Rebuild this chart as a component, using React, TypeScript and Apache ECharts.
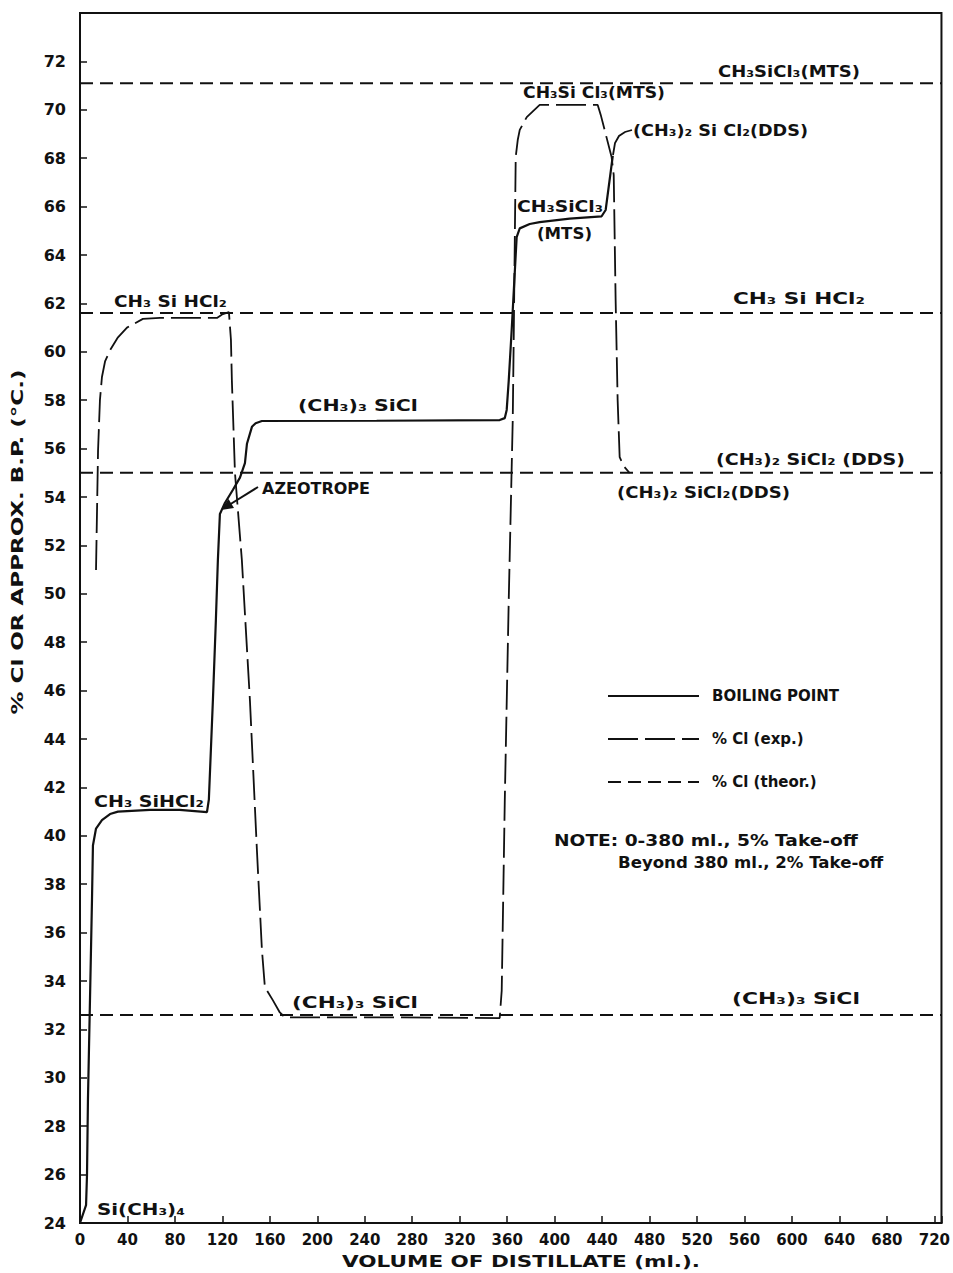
import React, { useEffect, useRef } from 'react';
import * as echarts from 'echarts';

const X_MIN = 0;
const X_MAX = 726;
const Y_MIN = 24;
const Y_MAX = 74;

// Boiling point (solid)
const bpVolume = [0, 5.1, 5.9, 6.7, 8.4, 10.1, 10.9, 13.5, 18.5, 25.3, 32, 59, 84, 107, 108.6, 112, 114.5, 116.2, 117.9, 122.1, 128.9, 134.8, 139, 140.7, 144.9, 148, 153.3, 250, 353.7, 358, 359.6, 361.3, 363.8, 368, 370.6, 379, 387.4, 412.7, 439.6, 443, 449];
const bpTemp = [24, 24.74, 25.98, 29.1, 33.2, 37.35, 39.6, 40.3, 40.65, 40.9, 41.0, 41.07, 41.07, 40.98, 41.5, 45.6, 48.9, 51.4, 53.3, 53.75, 54.3, 54.8, 55.4, 56.2, 56.9, 57.05, 57.14, 57.15, 57.18, 57.26, 57.6, 58.8, 60.9, 64.74, 65.1, 65.28, 65.36, 65.5, 65.6, 65.86, 68.1];

// % Cl experimental (long dash)
const clVolume = [13.5, 15.2, 16.8, 18.5, 21.1, 25.3, 32, 39.6, 53, 67.4, 115.4, 120.4, 125.5, 127.2, 128, 130.6, 136.4, 143.2, 149.1, 153.3, 155.8, 162.6, 168.4, 172.7, 260, 353.7, 355.4, 358, 361.3, 364.7, 365.5, 367.2, 368.9, 370.6, 376.5, 387.4, 436.3, 438.8, 448, 449.8, 451.4, 453.1, 454.8, 458.2, 463.2];
const clPercent = [50.98, 55.9, 58.0, 58.96, 59.6, 60.07, 60.6, 61.0, 61.36, 61.4, 61.4, 61.56, 61.64, 60.5, 58.8, 54.99, 51.4, 45.6, 39.4, 35.3, 33.75, 33.2, 32.7, 32.5, 32.5, 32.47, 33.6, 41.5, 49.7, 57.2, 60.5, 68.05, 68.75, 69.17, 69.7, 70.2, 70.2, 69.8, 68.05, 67.3, 62.14, 58.0, 55.65, 55.28, 54.99];

// % Cl theoretical (short dash)
const theorPercent = [71.1, 61.6, 55.0, 32.6];

const BP_NAME = 'BOILING POINT';
const EXP_NAME = '% Cl (exp.)';
const THEOR_NAME = '% Cl (theor.)';

const FONT = 'DejaVu Sans';

const labels = [
  { text: 'CH₃SiCl₃(MTS)', x: 718, y: 71, w: 142 },
  { text: 'CH₃Si Cl₃(MTS)', x: 523, y: 93, w: 142 },
  { text: '(CH₃)₂ Si Cl₂(DDS)', x: 633, y: 130, w: 175 },
  { text: 'CH₃SiCl₃', x: 517, y: 206, w: 86 },
  { text: '(MTS)', x: 537, y: 234, w: 55 },
  { text: 'CH₃ Si HCl₂', x: 114, y: 301, w: 113 },
  { text: 'CH₃ Si HCl₂', x: 733, y: 298, w: 132 },
  { text: '(CH₃)₃ SiCl', x: 298, y: 405, w: 120 },
  { text: '(CH₃)₂ SiCl₂ (DDS)', x: 716, y: 460, w: 189 },
  { text: '(CH₃)₂ SiCl₂(DDS)', x: 617, y: 492, w: 173 },
  { text: 'AZEOTROPE', x: 262, y: 488, w: 108 },
  { text: '(CH₃)₃ SiCl', x: 292, y: 1002, w: 126 },
  { text: '(CH₃)₃ SiCl', x: 732, y: 999, w: 128 },
  { text: 'CH₃ SiHCl₂', x: 94, y: 802, w: 110 },
  { text: 'Si(CH₃)₄', x: 97, y: 1209, w: 88 },
  { text: 'NOTE: 0-380 ml., 5% Take-off', x: 554, y: 840, w: 304 },
  { text: 'Beyond 380 ml., 2% Take-off', x: 618, y: 863, w: 265 },
];

function measure(text: string, size: number): number {
  const c = document.createElement('canvas').getContext('2d');
  if (!c) return text.length * size * 0.6;
  c.font = `bold ${size}px "${FONT}"`;
  return c.measureText(text).width;
}

function textEl(text: string, x: number, y: number, w: number, size: number, extra: any = {}) {
  const m = measure(text, size);
  const s = Math.max(0.7, Math.min(1.8, w / m));
  return {
    type: 'text',
    x,
    y,
    scaleX: s,
    silent: true,
    ...extra,
    style: {
      text,
      fill: '#111',
      font: `bold ${size}px "${FONT}"`,
      align: extra.align || 'left',
      verticalAlign: 'middle',
      textAlign: extra.align || 'left',
      textVerticalAlign: 'middle',
    },
  };
}

export default function App() {
  const ref = useRef<HTMLDivElement>(null);

  useEffect(() => {
    if (!ref.current) return;
    const chart = echarts.init(ref.current, null, { renderer: 'svg' });

    const bpData = bpVolume.map((v, i) => [v, bpTemp[i]]);
    const clData = clVolume.map((v, i) => [v, clPercent[i]]);

    const theorSeries = theorPercent.map((p) => ({
      name: THEOR_NAME,
      type: 'line',
      data: [[X_MIN, p], [X_MAX, p]],
      symbol: 'none',
      showSymbol: false,
      itemStyle: { color: '#111' },
      lineStyle: { color: '#111', width: 2, type: [13, 7] },
      silent: true,
      z: 2,
    }));

    const graphics: any[] = labels.map((l) => textEl(l.text, l.x, l.y, l.w, 16));
    graphics.push(textEl('VOLUME OF DISTILLATE (ml.).', 521, 1262, 358, 15, { align: 'center' }));
    graphics.push(
      textEl('% Cl OR APPROX. B.P. (°C.)', 18, 542, 345, 15, { align: 'center', rotation: Math.PI / 2 })
    );
    // Azeotrope arrow
    graphics.push({
      type: 'line',
      silent: true,
      shape: { x1: 258, y1: 487, x2: 229, y2: 505 },
      style: { stroke: '#111', lineWidth: 2 },
    });
    graphics.push({
      type: 'polygon',
      silent: true,
      shape: { points: [[221, 510], [234, 508], [228.5, 499]] },
      style: { fill: '#111' },
    });
    // DDS leader
    graphics.push({
      type: 'polyline',
      silent: true,
      shape: { points: [[613, 155], [615, 143], [619, 136], [625, 132], [632, 130]] },
      style: { stroke: '#111', lineWidth: 1.8, fill: 'none' },
    });

    const option: any = {
      animation: false,
      backgroundColor: '#fff',
      grid: {
        left: 80,
        right: 11,
        top: 13,
        bottom: 50,
        show: true,
        borderColor: '#111',
        borderWidth: 2,
        backgroundColor: 'transparent',
      },
      legend: {
        orient: 'vertical',
        left: 602,
        top: 683,
        itemWidth: 91,
        itemHeight: 20,
        itemGap: 27,
        selectedMode: false,
        data: [BP_NAME, EXP_NAME, THEOR_NAME],
        itemStyle: { opacity: 0, borderWidth: 0 },
        textStyle: {
          fontFamily: FONT,
          fontWeight: 'bold',
          fontSize: 15,
          color: '#111',
          padding: [0, 0, 0, 8],
        },
      },
      xAxis: {
        type: 'value',
        min: X_MIN,
        max: X_MAX,
        interval: 40,
        axisLine: { show: true, lineStyle: { color: '#111', width: 2 } },
        axisTick: { show: true, inside: true, length: 7, lineStyle: { color: '#111', width: 1.5 } },
        splitLine: { show: false },
        axisLabel: {
          margin: 9,
          color: '#111',
          fontFamily: FONT,
          fontWeight: 'bold',
          fontSize: 15,
          formatter: (v: number) => (v % 40 === 0 && v <= 720 ? String(v) : ''),
        },
      },
      yAxis: {
        type: 'value',
        min: Y_MIN,
        max: Y_MAX,
        interval: 2,
        axisLine: { show: true, lineStyle: { color: '#111', width: 2 } },
        axisTick: { show: true, inside: true, length: 7, lineStyle: { color: '#111', width: 1.5 } },
        splitLine: { show: false },
        axisLabel: {
          margin: 14,
          color: '#111',
          fontFamily: FONT,
          fontWeight: 'bold',
          fontSize: 16,
          formatter: (v: number) => (v <= 72 ? String(v) : ''),
        },
      },
      series: [
        {
          name: BP_NAME,
          type: 'line',
          data: bpData,
          symbol: 'none',
          showSymbol: false,
          itemStyle: { color: '#111' },
          lineStyle: { color: '#111', width: 2.2, type: 'solid' },
          silent: true,
          z: 3,
        },
        {
          name: EXP_NAME,
          type: 'line',
          data: clData,
          symbol: 'none',
          showSymbol: false,
          itemStyle: { color: '#111' },
          lineStyle: { color: '#111', width: 1.8, type: [30, 7] },
          silent: true,
          z: 3,
        },
        ...theorSeries,
      ],
      graphic: graphics,
    };

    chart.setOption(option);
    return () => chart.dispose();
  }, []);

  return (
    <div
      ref={ref}
      style={{ position: 'fixed', left: 0, top: 0, width: 953, height: 1273, background: '#fff' }}
    />
  );
}
